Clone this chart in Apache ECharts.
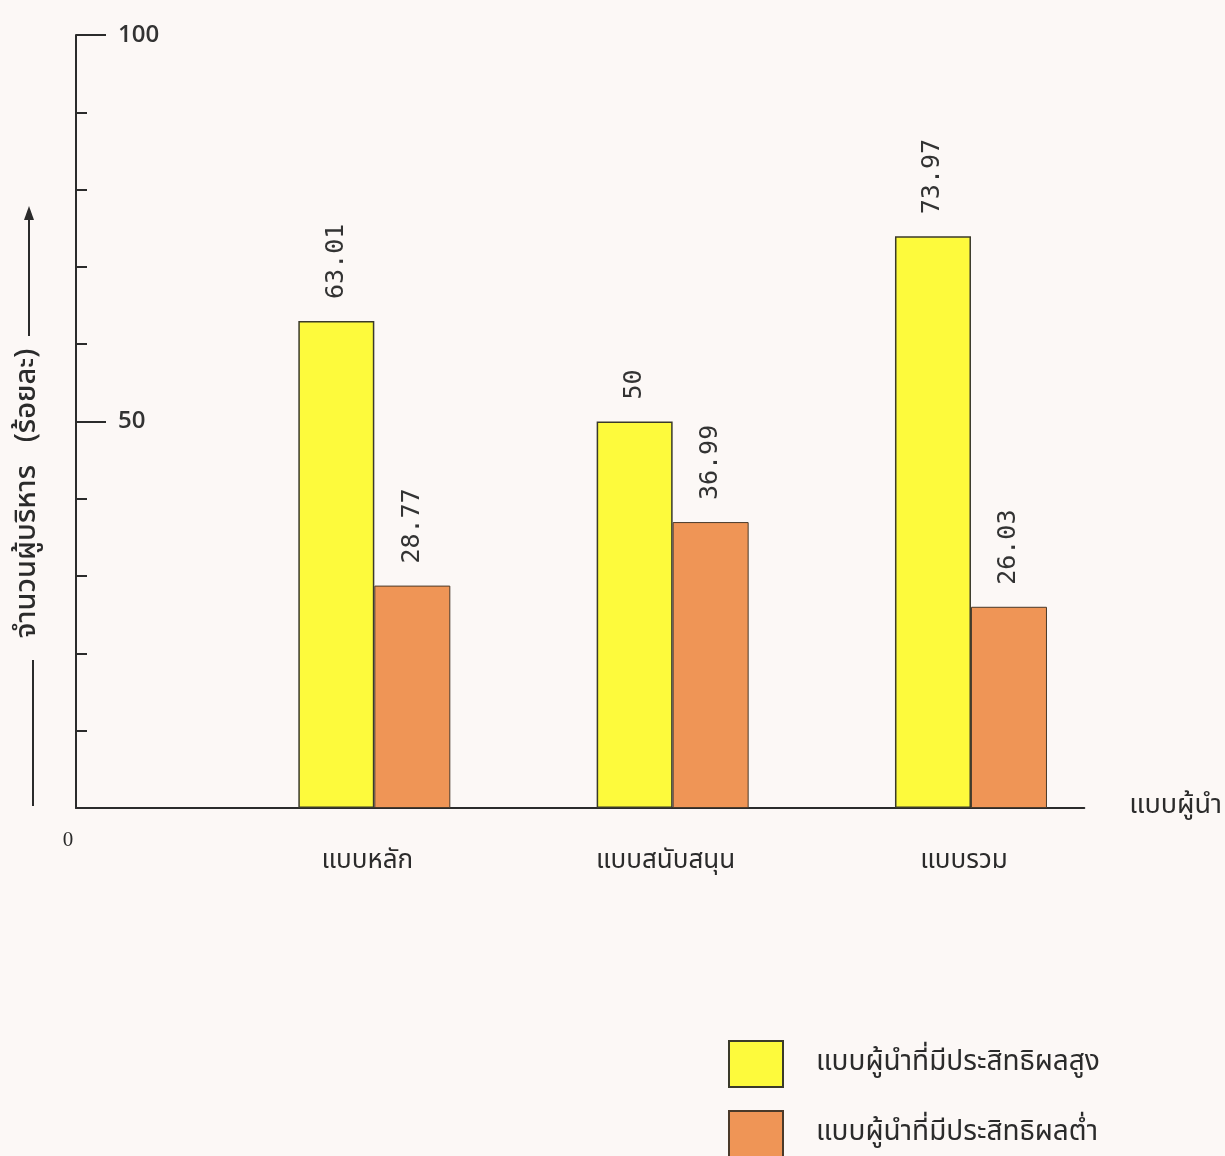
<!DOCTYPE html>
<html>
<head>
<meta charset="utf-8">
<script src="https://cdn.jsdelivr.net/npm/echarts@6/dist/echarts.min.js"></script>
<style>
html,body{margin:0;padding:0;background:#fcf8f6;}
#chart{width:1225px;height:1156px;}
</style>
</head>
<body>
<div id="chart"></div>
<script>
const categories = ['แบบหลัก', 'แบบสนับสนุน', 'แบบรวม'];
const seriesNames = ['แบบผู้นำที่มีประสิทธิผลสูง', 'แบบผู้นำที่มีประสิทธิผลต่ำ'];
const highValues = [63.01, 50, 73.97];
const lowValues = [28.77, 36.99, 26.03];
const yAxisTitle = 'จำนวนผู้บริหาร   (ร้อยละ)';
const xAxisTitle = 'แบบผู้นำ';
const yTickLabels = { 50: '50', 100: '100' };
const originLabel = '0';

const thaiFont = '"Noto Sans Thai", "Noto Serif Thai", "Tlwg Typo", "Loma", "Garuda", "Norasi", "DejaVu Sans", sans-serif';
const monoFont = '"DejaVu Sans Mono", "Liberation Mono", monospace';
const ink = '#2b2b2b';

const chart = echarts.init(document.getElementById('chart'));

const barLabel = {
  show: true,
  position: 'top',
  rotate: 90,
  align: 'left',
  verticalAlign: 'middle',
  distance: 22,
  fontFamily: monoFont,
  fontSize: 25,
  color: '#333',
  formatter: p => String(p.value[1])
};

chart.setOption({
  backgroundColor: '#fcf8f6',
  animation: false,
  grid: { left: 76, top: 35, width: 1009, bottom: 348, containLabel: false },
  xAxis: {
    type: 'value',
    min: 0,
    max: 3.38,
    interval: 1,
    name: xAxisTitle,
    nameLocation: 'end',
    nameGap: 45,
    nameTextStyle: { fontFamily: thaiFont, fontSize: 27, color: ink, verticalAlign: 'middle', padding: [0, 0, 30, 0] },
    axisLine: { show: true, lineStyle: { color: ink, width: 2 } },
    axisTick: { show: false },
    splitLine: { show: false },
    axisLabel: {
      show: true,
      margin: 22,
      showMaxLabel: false,
      formatter: v => {
        if (v === 0) return '{z|' + originLabel + '}';
        if (Number.isInteger(v) && v >= 1 && v <= categories.length) return '{c|' + categories[v - 1] + '}';
        return '';
      },
      rich: {
        z: { fontFamily: '"Liberation Serif", serif', fontSize: 21, color: ink, padding: [0, 16, 0, 0] },
        c: { fontFamily: thaiFont, fontSize: 26, color: ink, padding: [20, 14, 0, 0] }
      }
    }
  },
  yAxis: {
    type: 'value',
    min: 0,
    max: 100,
    interval: 50,
    name: yAxisTitle,
    nameLocation: 'middle',
    nameRotate: 90,
    nameGap: 32,
    nameTextStyle: { fontFamily: thaiFont, fontSize: 29, fontWeight: 500, color: ink, padding: [0, 144, 0, 0] },
    axisLine: { show: true, lineStyle: { color: ink, width: 2 } },
    axisTick: { show: true, inside: true, length: 30, lineStyle: { color: ink, width: 2 } },
    minorTick: { show: true, splitNumber: 5, length: 11, lineStyle: { color: ink, width: 2 } },
    splitLine: { show: false },
    minorSplitLine: { show: false },
    axisLabel: {
      show: true,
      inside: true,
      margin: 42,
      fontFamily: '"Open Sans", "DejaVu Sans", sans-serif',
      fontSize: 24,
      fontWeight: 600,
      color: '#333',
      padding: [0, 0, 18, 0],
      formatter: v => yTickLabels[v] || ''
    }
  },
  legend: {
    orient: 'vertical',
    left: 728,
    top: 1040,
    height: 200,
    padding: 0,
    itemWidth: 54,
    itemHeight: 46,
    itemGap: 22,
    icon: 'rect',
    textStyle: { fontFamily: thaiFont, fontSize: 28, lineHeight: 40, color: ink, padding: [0, 0, 0, 28] },
    data: seriesNames
  },
  series: [
    {
      name: seriesNames[0],
      type: 'bar',
      barWidth: 76,
      barGap: '0%',
      data: highValues.map((v, i) => [i + 1, v]),
      itemStyle: { color: '#fdfa3c', borderColor: '#3a3a2a', borderWidth: 1.5 },
      label: barLabel
    },
    {
      name: seriesNames[1],
      type: 'bar',
      barWidth: 76,
      barGap: '0%',
      data: lowValues.map((v, i) => [i + 1, v]),
      itemStyle: { color: '#ef9556', borderColor: '#4a3a2a', borderWidth: 1 },
      label: barLabel
    }
  ],
  graphic: [
    { type: 'line', shape: { x1: 33, y1: 806, x2: 33, y2: 660 }, style: { stroke: ink, lineWidth: 2 } },
    { type: 'line', shape: { x1: 29, y1: 336, x2: 29, y2: 214 }, style: { stroke: ink, lineWidth: 2 } },
    { type: 'polygon', shape: { points: [[29, 206], [24, 220], [34, 220]] }, style: { fill: ink } }
  ]
});
</script>
</body>
</html>
